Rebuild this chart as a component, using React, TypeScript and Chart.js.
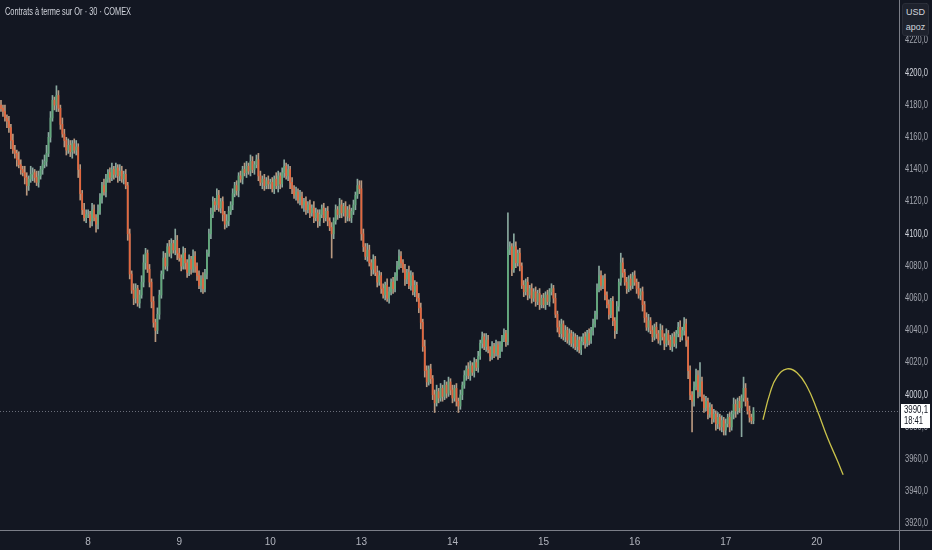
import { useEffect, useRef } from "react";
import { Chart, registerables } from "chart.js";

Chart.register(...registerables);

// ---- data (30-minute bars) ----
const firstOpen = 4180;
const closes = [
  // day 7 (partial)
  4178, 4176, 4172, 4170, 4166, 4158, 4152, 4150, 4146, 4143, 4140, 4138, 4135, 4130, 4134, 4137, 4138, 4135, 4132, 4136,
  4140, 4143, 4145, 4150, 4160, 4172, 4183, 4180, 4186, 4178, 4168, 4162, 4158, 4152, 4155, 4151, 4156, 4152, 4154, 4140,
  4125, 4115, 4110, 4112,
  // day 8
  4112, 4108, 4115, 4110, 4106, 4114, 4122, 4130, 4126, 4134, 4138, 4135, 4140, 4137, 4141, 4136, 4139, 4134, 4137, 4130,
  4100, 4075, 4065, 4060, 4066, 4057, 4062, 4070, 4082, 4088, 4078, 4070, 4058, 4045, 4040, 4050, 4062, 4075, 4085, 4080,
  4092, 4088, 4094, 4090, 4096, 4088,
  // day 9
  4085, 4080, 4088, 4082, 4076, 4084, 4078, 4086, 4080, 4074, 4068, 4072, 4066, 4075, 4088, 4100, 4112, 4120, 4118, 4124,
  4116, 4120, 4112, 4106, 4108, 4114, 4118, 4125, 4130, 4127, 4136, 4134, 4140, 4138, 4142, 4139, 4145, 4140, 4143, 4146,
  4136, 4132, 4134, 4130, 4133, 4131,
  // day 10
  4132, 4128, 4134, 4130, 4136, 4131, 4138, 4142, 4136, 4140, 4132, 4128, 4124, 4126, 4121, 4123, 4118, 4120, 4115, 4118,
  4113, 4116, 4110, 4113, 4108, 4112, 4116, 4110, 4114, 4108, 4104, 4100, 4108, 4115, 4112, 4118, 4113, 4117, 4111, 4115,
  4110, 4114, 4118, 4124, 4130, 4128,
  // day 13
  4100, 4092, 4086, 4090, 4082, 4078, 4084, 4076, 4070, 4074, 4066, 4062, 4068, 4060, 4064, 4070, 4066, 4074, 4080, 4086,
  4082, 4078, 4072, 4076, 4068, 4074, 4064, 4068, 4060, 4054, 4045, 4030, 4015, 4008, 4016, 4010, 4000, 3995, 4002, 3998,
  4004, 3999, 4006, 4001, 4008, 4003,
  // day 14
  3998, 4004, 3996, 3993, 4000, 4006, 4012, 4016, 4012, 4018, 4014, 4020, 4017, 4024, 4032, 4036, 4030, 4034, 4028, 4024,
  4030, 4026, 4031, 4025, 4030, 4035, 4038, 4033, 4090, 4092, 4078, 4092, 4082, 4088, 4080, 4068, 4064, 4070, 4062, 4066,
  4060, 4064, 4058, 4063, 4056, 4060,
  // day 15
  4056, 4062, 4058, 4064, 4066, 4060, 4050, 4042, 4038, 4044, 4036, 4040, 4034, 4038, 4032, 4036, 4030, 4034, 4028, 4033,
  4036, 4032, 4038, 4034, 4040, 4044, 4050, 4066, 4074, 4068, 4072, 4062, 4056, 4050, 4058, 4046, 4040, 4055, 4070, 4082,
  4076, 4070, 4066, 4072, 4068, 4074,
  // day 16
  4070, 4066, 4062, 4064, 4056, 4048, 4042, 4046, 4040, 4036, 4042, 4038, 4034, 4040, 4036, 4032, 4038, 4034, 4030, 4036,
  4032, 4038, 4042, 4036, 4040, 4044, 4034, 4015, 4000, 3996, 4005, 4012, 4002, 4008, 3998, 3992, 3996, 3988, 3992, 3985,
  3988, 3982, 3986, 3980, 3984, 3978,
  // day 17 (partial)
  3982, 3986, 3980, 3988, 3994, 3990, 3996, 3992, 3998, 4004, 3996, 3990, 3986, 3984, 3990.1,
];

// wick length above the body and below the body, per bar
const wickUp = [
  3, 2, 4, 2, 3, 2, 4, 3, 2, 5, 3, 2, 4, 3, 2, 5, 3, 2, 4, 3, 2, 3, 4, 5, 3, 4, 3, 2, 6, 3, 2, 4, 3, 2, 4, 3, 2, 3, 4, 2, 3, 2, 4, 3,
  3, 2, 4, 3, 2, 4, 3, 2, 4, 3, 2, 3, 4, 2, 3, 2, 4, 3, 2, 3, 2, 3, 2, 4, 3, 2, 3, 4, 5, 3, 2, 3, 2, 3, 2, 4, 3, 2, 4, 3, 2, 4, 3, 2, 7, 3,
  3, 2, 4, 3, 2, 3, 2, 4, 3, 2, 3, 2, 4, 3, 2, 3, 4, 3, 2, 4, 3, 2, 3, 2, 4, 3, 2, 3, 2, 3, 2, 3, 2, 4, 3, 2, 4, 3, 2, 3, 4, 3, 2, 3, 2, 3,
  2, 3, 2, 4, 3, 2, 3, 4, 2, 3, 2, 3, 2, 3, 2, 4, 3, 2, 3, 2, 3, 2, 4, 3, 2, 3, 2, 3, 2, 3, 2, 3, 2, 3, 2, 4, 3, 2, 3, 2, 3, 2, 3, 2, 4, 3,
  5, 3, 2, 4, 3, 2, 3, 2, 4, 3, 2, 3, 2, 4, 3, 2, 3, 2, 3, 4, 3, 2, 3, 2, 4, 3, 2, 3, 2, 3, 3, 2, 4, 3, 2, 3, 2, 3, 4, 2, 3, 2, 3, 2, 3, 2,
  3, 2, 3, 2, 3, 2, 3, 2, 4, 3, 2, 3, 2, 3, 2, 3, 2, 4, 3, 2, 3, 2, 3, 2, 3, 2, 3, 2, 23, 3, 2, 8, 3, 2, 3, 2, 3, 2, 3, 2, 3, 2, 3, 2, 3, 2,
  3, 2, 3, 2, 3, 2, 3, 2, 4, 3, 2, 3, 2, 3, 2, 3, 2, 3, 2, 3, 2, 3, 2, 3, 2, 3, 2, 3, 6, 3, 2, 3, 2, 3, 2, 3, 2, 3, 2, 6, 3, 2, 3, 2, 3, 2,
  3, 2, 4, 2, 3, 2, 3, 4, 2, 3, 2, 3, 2, 4, 3, 2, 3, 2, 3, 2, 3, 2, 3, 4, 2, 4, 3, 2, 3, 2, 3, 4, 3, 12, 3, 2, 3, 2, 3, 2, 3, 2, 3, 2, 3, 2,
  3, 2, 3, 2, 4, 3, 2, 3, 2, 7, 3, 2, 3, 2, 2,
];
const wickDown = [
  2, 3, 2, 4, 3, 5, 2, 3, 4, 2, 3, 2, 4, 6, 3, 2, 4, 3, 2, 3, 2, 3, 2, 3, 2, 3, 2, 3, 4, 2, 3, 2, 4, 3, 2, 3, 4, 2, 3, 5, 4, 3, 2, 3,
  2, 4, 3, 2, 5, 3, 2, 3, 2, 3, 2, 3, 2, 3, 2, 4, 3, 2, 3, 2, 4, 3, 2, 4, 3, 2, 3, 2, 3, 4, 2, 3, 4, 3, 7, 2, 3, 2, 3, 2, 3, 2, 3, 2, 3, 4,
  2, 3, 2, 4, 3, 2, 3, 2, 4, 3, 2, 4, 3, 2, 3, 2, 3, 2, 4, 3, 2, 3, 4, 3, 2, 3, 2, 3, 2, 3, 4, 2, 3, 2, 3, 2, 3, 2, 3, 2, 3, 2, 4, 3, 2, 3,
  3, 2, 3, 2, 4, 3, 2, 3, 2, 3, 4, 3, 2, 3, 2, 3, 2, 4, 3, 2, 3, 2, 3, 2, 4, 3, 2, 3, 2, 3, 2, 15, 3, 2, 3, 2, 3, 2, 4, 3, 2, 3, 2, 3, 2, 3,
  4, 3, 2, 3, 2, 4, 3, 2, 3, 2, 3, 2, 3, 2, 3, 2, 3, 2, 3, 2, 3, 2, 4, 3, 2, 3, 2, 3, 2, 3, 4, 3, 4, 3, 2, 3, 3, 6, 2, 3, 2, 3, 2, 3, 2, 3,
  3, 2, 3, 4, 2, 3, 2, 3, 2, 3, 2, 3, 2, 3, 2, 3, 2, 3, 2, 3, 2, 3, 2, 3, 2, 3, 2, 3, 2, 3, 4, 2, 3, 2, 3, 2, 3, 2, 3, 2, 3, 2, 3, 2, 3, 2,
  2, 3, 2, 3, 2, 3, 2, 3, 2, 3, 2, 3, 2, 3, 2, 3, 2, 3, 2, 3, 2, 3, 2, 3, 2, 3, 2, 3, 2, 3, 2, 3, 2, 3, 2, 3, 5, 2, 3, 2, 3, 2, 3, 2, 3, 2,
  2, 3, 2, 3, 4, 3, 2, 3, 2, 3, 2, 3, 2, 3, 2, 4, 2, 3, 2, 3, 2, 3, 2, 3, 2, 3, 4, 5, 3, 19, 3, 2, 4, 3, 2, 3, 2, 3, 2, 3, 2, 4, 3, 2, 3, 3,
  3, 2, 3, 2, 3, 4, 2, 3, 18, 2, 3, 2, 3, 2, 2,
];

const dayLabels = ["8", "9", "10", "13", "14", "15", "16", "17", "20"];
const dayStarts = [44, 90, 136, 182, 228, 274, 320, 366, 412];
const priceTicks = [3920, 3940, 3960, 3980, 4000, 4020, 4040, 4060, 4080, 4100, 4120, 4140, 4160, 4180, 4200, 4220, 4240];

// drawn projection curve (bar index, price)
const projX = [384.8, 388.4, 391.9, 397.0, 402.0, 407.1, 412.1, 417.2, 422.2, 425.3];
const projY = [3984.5, 4001.2, 4011.2, 4016.1, 4013.7, 4005.0, 3990.7, 3973.9, 3959.6, 3950.3];

const title = "Contrats à terme sur Or · 30 · COMEX";
const currency = "USD";
const unitLabel = "apoz";
const lastPrice = 3990.1;
const countdown = "18:41";

// ---- styles ----
const BG = "#131722";
const UP = "#62a87c";
const DOWN = "#e2673f";
const UP_WICK = "#8aa9a0";
const DOWN_WICK = "#b8987f";
const AXIS = "#7b7e88";
const FONT = '"Liberation Sans", Arial, sans-serif';
const W = 932;
const H = 550;

const fmt = (v: number) => v.toFixed(1).replace(".", ",");

export default function App() {
  const ref = useRef<HTMLCanvasElement | null>(null);

  useEffect(() => {
    if (!ref.current) return;
    const opens = closes.map((c, i) => (i === 0 ? firstOpen : closes[i - 1]));
    const highs = closes.map((c, i) => Math.max(opens[i], c) + wickUp[i]);
    const lows = closes.map((c, i) => Math.min(opens[i], c) - wickDown[i]);
    const colors = closes.map((c, i) => (c >= opens[i] ? UP : DOWN));
    const wickColors = closes.map((c, i) => (c >= opens[i] ? UP_WICK : DOWN_WICK));

    const decor = {
      id: "decor",
      beforeDraw(chart: any) {
        const { ctx } = chart;
        ctx.save();
        ctx.fillStyle = BG;
        ctx.fillRect(0, 0, chart.width, chart.height);
        ctx.restore();
      },
      beforeDatasetsDraw(chart: any) {
        const { ctx, chartArea, scales } = chart;
        const py = Math.round(scales.y.getPixelForValue(lastPrice)) + 0.5;
        ctx.save();
        ctx.strokeStyle = "#6a6e7a";
        ctx.lineWidth = 1;
        ctx.setLineDash([1, 2]);
        ctx.beginPath();
        ctx.moveTo(chartArea.left, py);
        ctx.lineTo(chartArea.right, py);
        ctx.stroke();
        ctx.restore();
      },
      afterDraw(chart: any) {
        const { ctx, chartArea, scales } = chart;
        const ys = scales.y;
        ctx.save();
        // title
        ctx.fillStyle = "#d1d4dc";
        ctx.font = `10px ${FONT}`;
        ctx.textBaseline = "middle";
        ctx.textAlign = "left";
        ctx.fillText(title, 5, 12, 126);
        // price scale labels
        const lx = chartArea.right + 6;
        for (const v of priceTicks) {
          const py = ys.getPixelForValue(v);
          if (py < 0 || py > chartArea.bottom) continue;
          ctx.fillStyle = v % 100 === 0 ? "#d1d4dc" : "#a3a6af";
          ctx.fillText(fmt(v), lx, py, 23);
        }
        // axis lines
        ctx.strokeStyle = AXIS;
        ctx.lineWidth = 1;
        ctx.beginPath();
        ctx.moveTo(0, chartArea.bottom + 0.5);
        ctx.lineTo(chart.width, chartArea.bottom + 0.5);
        ctx.moveTo(chartArea.right + 0.5, 0);
        ctx.lineTo(chartArea.right + 0.5, chart.height);
        ctx.stroke();
        // last price label
        const py = ys.getPixelForValue(lastPrice);
        const bx = chartArea.right + 2;
        ctx.fillStyle = "#ffffff";
        ctx.fillRect(bx, Math.round(py) - 7, chart.width - bx - 2, 24);
        ctx.fillStyle = "#131722";
        ctx.fillText(fmt(lastPrice), bx + 3, py, 24);
        ctx.fillText(countdown, bx + 3, py + 11, 19);
        ctx.restore();
      },
    };

    const chart = new Chart(ref.current, {
      type: "bar",
      data: {
        datasets: [
          {
            type: "line",
            data: projX.map((x, k) => ({ x, y: projY[k] })),
            borderColor: "#c9c24b",
            borderWidth: 1.3,
            pointRadius: 0,
            tension: 0.45,
            fill: false,
            order: 0,
          } as any,
          {
            type: "bar",
            data: closes.map((c, i) => ({ x: i, y: [opens[i], c] })),
            backgroundColor: colors,
            barThickness: 1.1,
            grouped: false,
            order: 1,
          } as any,
          {
            type: "bar",
            data: closes.map((c, i) => ({ x: i, y: [lows[i], highs[i]] })),
            backgroundColor: wickColors,
            barThickness: 1,
            grouped: false,
            order: 2,
          } as any,
        ],
      },
      options: {
        animation: false,
        responsive: false,
        events: [],
        layout: { padding: 0 },
        plugins: { legend: { display: false }, tooltip: { enabled: false }, title: { display: false } },
        scales: {
          x: {
            type: "linear",
            min: -0.5,
            max: 453.5,
            offset: false,
            grid: { display: false, drawTicks: false },
            border: { display: false },
            ticks: {
              color: "#b2b5be",
              font: { family: FONT, size: 10 },
              padding: 6,
              autoSkip: false,
              maxRotation: 0,
              callback: (v: any) => {
                const k = dayStarts.indexOf(Number(v));
                return k >= 0 ? dayLabels[k] : "";
              },
            },
            afterBuildTicks: (s: any) => {
              s.ticks = dayStarts.map((v) => ({ value: v }));
            },
            afterFit: (s: any) => {
              s.height = 20;
              s.paddingLeft = 0;
              s.paddingRight = 0;
            },
          },
          y: {
            type: "linear",
            position: "right",
            min: 3916,
            max: 4245.3,
            grid: { display: false, drawTicks: false },
            border: { display: false },
            ticks: { display: false },
            afterBuildTicks: (s: any) => {
              s.ticks = priceTicks.map((v) => ({ value: v }));
            },
            afterFit: (s: any) => {
              s.width = 33;
              s.paddingTop = 0;
              s.paddingBottom = 0;
            },
          },
        },
      } as any,
      plugins: [decor],
    });
    return () => chart.destroy();
  }, []);

  return (
    <div style={{ position: "absolute", left: 0, top: 0, width: W, height: H, background: BG, overflow: "hidden" }}>
      <canvas ref={ref} width={W} height={H} style={{ display: "block", width: W, height: H }} />
      <div
        style={{
          position: "absolute",
          left: 902,
          top: 3,
          width: 27,
          height: 33,
          boxSizing: "border-box",
          background: "#1e222d",
          border: "1px solid #2a2e39",
          borderRadius: 3,
          color: "#d1d4dc",
          font: `9px ${FONT}`,
          textAlign: "center",
          lineHeight: "15px",
          paddingTop: 1,
        }}
      >
        <div>{currency}</div>
        <div>{unitLabel}</div>
      </div>
    </div>
  );
}
